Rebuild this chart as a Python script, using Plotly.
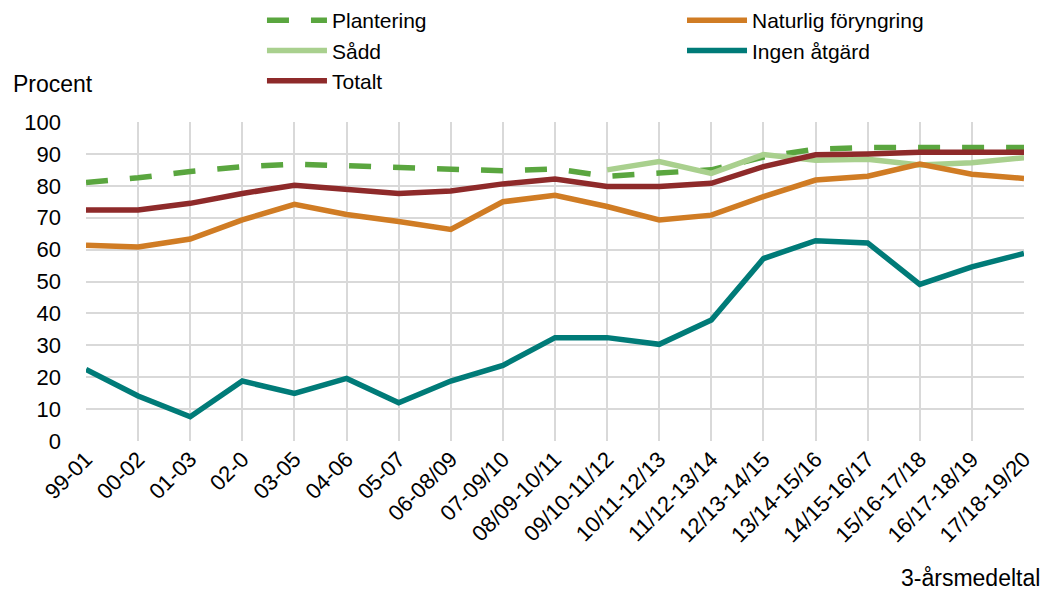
import plotly.graph_objects as go

categories = ["99-01", "00-02", "01-03", "02-0", "03-05", "04-06", "05-07", "06-08/09",
              "07-09/10", "08/09-10/11", "09/10-11/12", "10/11-12/13", "11/12-13/14",
              "12/13-14/15", "13/14-15/16", "14/15-16/17", "15/16-17/18", "16/17-18/19",
              "17/18-19/20"]

plantering = [81, 82.5, 84.5, 86, 86.8, 86.3, 85.5, 85.3, 84.7, 85.3, 83, 84, 85, 89, 91.5, 92, 92, 92, 92]
naturlig = [61.4, 60.8, 63.3, 69.3, 74.2, 71, 68.8, 66.3, 75, 77, 73.5, 69.3, 70.8, 76.6, 81.8, 83, 86.8, 83.6, 82.3]
sadd = [None] * 10 + [85, 87.6, 83.9, 89.8, 88, 88.3, 86.5, 87.2, 88.8]
ingen = [22.4, 14.1, 7.6, 18.8, 14.9, 19.6, 12, 18.8, 23.7, 32.4, 32.4, 30.3, 37.9, 57.2, 62.8, 62.1, 49.1, 54.6, 58.8]
totalt = [72.4, 72.4, 74.5, 77.6, 80.2, 79, 77.6, 78.4, 80.6, 82.1, 79.8, 79.8, 80.8, 86, 89.7, 90, 90.5, 90.5, 90.5]

FONT = "Liberation Sans, Arial, sans-serif"
FS = 22

fig = go.Figure()
fig.add_trace(go.Scatter(x=categories, y=plantering, name="Plantering", mode="lines",
                         line=dict(color="#5aa63f", width=5.5, dash="22px,22px"), legend="legend"))
fig.add_trace(go.Scatter(x=categories, y=sadd, name="Sådd", mode="lines",
                         line=dict(color="#a9d08e", width=5.5), legend="legend"))
fig.add_trace(go.Scatter(x=categories, y=totalt, name="Totalt", mode="lines",
                         line=dict(color="#8e2a2a", width=5.5), legend="legend"))
fig.add_trace(go.Scatter(x=categories, y=naturlig, name="Naturlig föryngring", mode="lines",
                         line=dict(color="#d07c24", width=5.5), legend="legend2"))
fig.add_trace(go.Scatter(x=categories, y=ingen, name="Ingen åtgärd", mode="lines",
                         line=dict(color="#007b78", width=5.5), legend="legend2"))

legend_common = dict(orientation="v", font=dict(family=FONT, size=21, color="#000000"),
                     bgcolor="rgba(0,0,0,0)", yanchor="top", xanchor="left",
                     yref="container", y=1.0,
                     tracegroupgap=0, itemwidth=60)

fig.update_layout(
    width=1045, height=590,
    margin=dict(l=86, r=21, t=122, b=149),
    paper_bgcolor="white", plot_bgcolor="white",
    font=dict(family=FONT, size=FS, color="#000000"),
    showlegend=True,
    legend=dict(x=0.1876, **legend_common),
    legend2=dict(x=0.6354, **legend_common),
    xaxis=dict(type="category", range=[0, 18], showgrid=True, gridcolor="#d9d9d9", gridwidth=2,
               tickangle=-45, tickfont=dict(family=FONT, size=FS), ticks="", zeroline=False,
               showline=False, automargin=False),
    yaxis=dict(range=[0, 100], dtick=10, showgrid=True, gridcolor="#d9d9d9", gridwidth=2,
               tickfont=dict(family=FONT, size=FS), ticks="", zeroline=False, showline=False,
               ticklabelstandoff=24, automargin=False),
    annotations=[
        dict(text="Procent", xref="paper", yref="paper", x=-86 / 938 + 11 / 938, y=1 + (122 - 84) / 319,
             xanchor="left", yanchor="middle", showarrow=False, font=dict(family=FONT, size=23)),
        dict(text="3-årsmedeltal", xref="paper", yref="paper", x=1 + 18 / 938, y=-(578 - 441) / 319,
             xanchor="right", yanchor="middle", showarrow=False, font=dict(family=FONT, size=23)),
    ],
)

fig.write_html("out.html", config={"displayModeBar": False},
               post_script="document.body.style.margin='0';")
